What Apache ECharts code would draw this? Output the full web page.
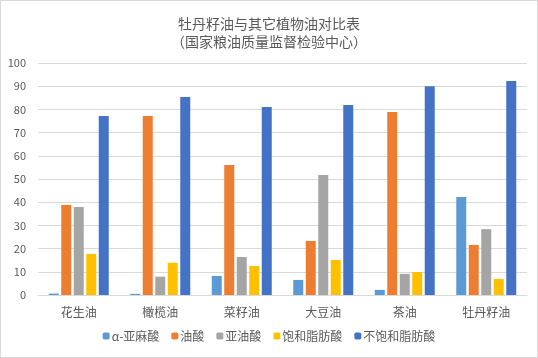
<!DOCTYPE html>
<html><head><meta charset="utf-8">
<script src="https://cdn.jsdelivr.net/npm/echarts@6/dist/echarts.min.js"></script>
<style>html,body{margin:0;padding:0;background:#fff}#c{width:538px;height:358px;box-sizing:border-box;border:1px solid #D9D9D9}</style>
</head><body><div id="c"></div>
<script>
const categories = ['花生油','橄榄油','菜籽油','大豆油','茶油','牡丹籽油'];
const seriesNames = ['α-亚麻酸','油酸','亚油酸','饱和脂肪酸','不饱和脂肪酸'];
const alphaLinolenic = [0.6, 0.5, 8.2, 6.5, 2.2, 42.2];
const oleic = [38.8, 77.2, 56.0, 23.3, 78.9, 21.6];
const linoleic = [37.9, 7.9, 16.4, 51.7, 9.1, 28.4];
const saturated = [17.7, 13.9, 12.5, 15.1, 9.9, 6.9];
const unsaturated = [77.2, 85.3, 81.0, 81.9, 90.0, 92.2];
const colors = ['#5B9BD5','#ED7D31','#A5A5A5','#FFC000','#4472C4'];
const allData = [alphaLinolenic, oleic, linoleic, saturated, unsaturated];
const font = '"Noto Sans CJK SC", "Microsoft YaHei", sans-serif';
const chart = echarts.init(document.getElementById('c'));
chart.setOption({
  animation: false,
  color: colors,
  textStyle: {fontFamily: font},
  title: {
    text: '牡丹籽油与其它植物油对比表\n（国家粮油质量监督检验中心）',
    left: 'center', top: 9,
    textStyle: {fontSize: 14, fontWeight: 'normal', color: '#595959', lineHeight: 18, fontFamily: font}
  },
  legend: {
    bottom: 10, left: 'center',
    itemWidth: 7, itemHeight: 7, itemGap: 12,
    textStyle: {fontSize: 12, color: '#595959', fontFamily: font, padding: [0, 0, 0, -3]},
    data: seriesNames
  },
  grid: {left: 37, right: 10, top: 62, bottom: 62},
  xAxis: {
    type: 'category', data: categories,
    axisLine: {lineStyle: {color: '#D9D9D9'}},
    axisTick: {show: false},
    axisLabel: {fontSize: 12, color: '#595959', margin: 11, fontFamily: font}
  },
  yAxis: {
    type: 'value', min: 0, max: 100, interval: 10,
    axisLine: {show: false}, axisTick: {show: false},
    splitLine: {lineStyle: {color: '#D9D9D9'}},
    axisLabel: {fontSize: 11, color: '#595959', margin: 12, fontFamily: font}
  },
  series: seriesNames.map((n, i) => ({
    name: n, type: 'bar', data: allData[i],
    barWidth: 10, barGap: '25%',
    itemStyle: {color: colors[i]}
  }))
});
</script></body></html>
